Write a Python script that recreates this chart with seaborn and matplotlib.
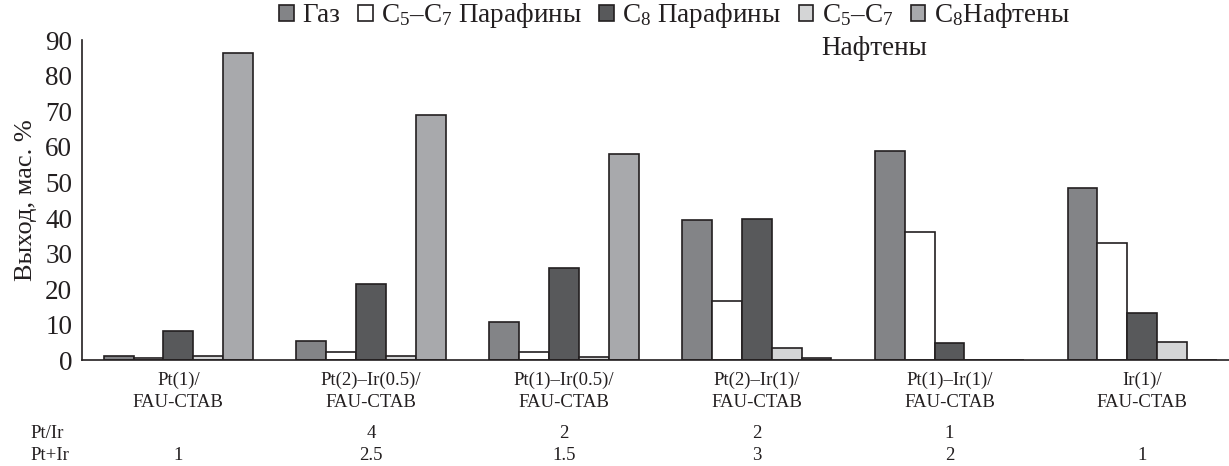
import matplotlib
matplotlib.use("Agg")
import matplotlib.pyplot as plt
import seaborn as sns
import pandas as pd
import numpy as np

categories = ["Pt(1)/\nFAU-CTAB", "Pt(2)–Ir(0.5)/\nFAU-CTAB", "Pt(1)–Ir(0.5)/\nFAU-CTAB",
              "Pt(2)–Ir(1)/\nFAU-CTAB", "Pt(1)–Ir(1)/\nFAU-CTAB", "Ir(1)/\nFAU-CTAB"]
series = ["Газ", "C$_5$–C$_7$ Парафины", "C$_8$ Парафины", "C$_5$–C$_7$", "C$_8$Нафтены"]
gas = [1.2, 5.4, 10.9, 39.3, 58.7, 48.3]
c5c7_par = [0.75, 2.35, 2.5, 16.7, 36.0, 32.9]
c8_par = [8.3, 21.4, 25.9, 39.6, 4.8, 13.2]
c5c7_naph = [1.3, 1.3, 0.9, 3.6, 0.0, 5.1]
c8_naph = [86.4, 68.8, 58.1, 0.6, 0.0, 0.0]
pt_ir = ["", "4", "2", "2", "1", ""]
pt_plus_ir = ["1", "2.5", "1.5", "3", "2", "1"]
colors = ["#838487", "#ffffff", "#58595b", "#d4d5d6", "#a8a9ac"]

sns.set_style("white")
plt.rcParams["font.family"] = ["Liberation Serif", "DejaVu Serif"]
plt.rcParams["mathtext.fontset"] = "custom"
plt.rcParams["mathtext.rm"] = "Liberation Serif"
plt.rcParams["mathtext.it"] = "Liberation Serif:italic"
plt.rcParams["mathtext.default"] = "regular"
plt.rcParams["text.color"] = "#231f20"

rows = []
for s, vals in zip(series, [gas, c5c7_par, c8_par, c5c7_naph, c8_naph]):
    for c, v in zip(categories, vals):
        rows.append({"cat": c, "series": s, "val": v})
df = pd.DataFrame(rows)

fig = plt.figure(figsize=(12.29, 4.66), dpi=100)
ax = fig.add_axes([82/1229, 105.6/466, 1 - 82/1229, (360.4-40)/466])
sns.barplot(data=df, x="cat", y="val", hue="series", order=categories, hue_order=series,
            palette=colors, width=0.775, edgecolor="#231f20", linewidth=1.2,
            saturation=1, ax=ax, legend=True)
ax.set_xlim(-0.5, 5.45)
ax.set_ylim(0, 90)
ax.set_yticks(range(0, 91, 10))
ax.tick_params(axis="y", direction="in", length=6.5, width=1.1, labelsize=19.5, pad=7,
               color="#231f20", labelcolor="#231f20")
ax.tick_params(axis="x", length=0, labelsize=13.5, pad=8, labelcolor="#231f20")
for lab in ax.get_xticklabels():
    lab.set_linespacing(1.4)
ax.set_xlabel("")
ax.set_ylabel("Выход, мас. %", fontsize=19, labelpad=6, color="#231f20")
for sp in ["top", "right"]:
    ax.spines[sp].set_visible(False)
for sp in ["left", "bottom"]:
    ax.spines[sp].set_color("#231f20")
    ax.spines[sp].set_linewidth(1.2)

# bottom rows
trans = matplotlib.transforms.blended_transform_factory(ax.transData, fig.transFigure)
y1 = (466 - 433) / 466
y2 = (466 - 456) / 466
fig.text(30/1229, y1, "Pt/Ir", fontsize=13.5, va="center", ha="left")
fig.text(30/1229, y2, "Pt+Ir", fontsize=13.5, va="center", ha="left")
for i, (a, b) in enumerate(zip(pt_ir, pt_plus_ir)):
    ax.text(i, y1, a, transform=trans, fontsize=13.5, ha="center", va="center")
    ax.text(i, y2, b, transform=trans, fontsize=13.5, ha="center", va="center")

# legend
handles, labels = ax.get_legend_handles_labels()
ax.get_legend().remove()
leg = fig.legend(handles, labels, loc="upper left", bbox_to_anchor=(278/1229, 1.0), ncol=5,
                 frameon=False, fontsize=19.5, handlelength=0.55, handleheight=0.55,
                 handletextpad=0.3, columnspacing=0.65, borderpad=0.05, borderaxespad=0)
fig.canvas.draw()
bb = leg.get_texts()[3].get_window_extent()
fig.text(bb.x0 / fig.bbox.width, (bb.y0 - 8) / fig.bbox.height, "Нафтены", fontsize=19.5,
         ha="left", va="top")

fig.savefig("out.png", dpi=100)
